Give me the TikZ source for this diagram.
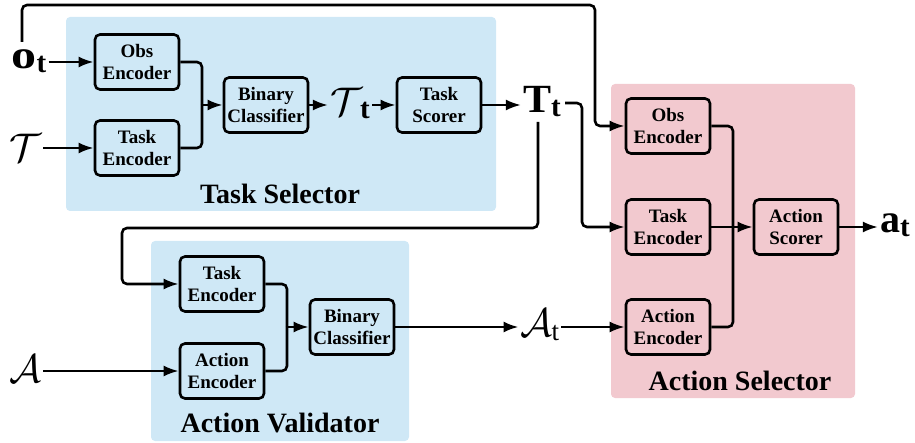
\documentclass[tikz,border=0pt]{standalone}
\usepackage{fix-cm}
\usepackage{fontspec}
\setmainfont{Liberation Serif}
\usetikzlibrary{arrows.meta,calc}

\definecolor{selblue}{HTML}{CFE8F6}
\definecolor{selpink}{HTML}{F2C9CF}

% symbol with a slightly lowered subscript, both set in text fonts
\newcommand{\symsub}[2]{#1\raisebox{-4pt}{\fontsize{29}{29}\selectfont #2}}

\begin{document}
\begin{tikzpicture}[x=1pt,y=-1pt,
  blk/.style={draw, line width=2.6pt, rounded corners=5pt,
    minimum width=84pt, minimum height=55pt, inner sep=0pt, align=center,
    font=\bfseries\fontsize{19}{22}\selectfont},
  grp/.style={fill=#1, rounded corners=4pt},
  grplabel/.style={font=\bfseries\fontsize{28}{30}\selectfont, inner sep=0pt},
  sym/.style={inner sep=2pt, font=\bfseries\fontsize{40}{42}\selectfont},
  csym/.style={inner sep=2pt, font=\fontsize{40}{42}\selectfont},
  wire/.style={line width=2.6pt, rounded corners=5pt},
  arr/.style={wire, -{Latex[length=15pt,width=11pt]}}]
\useasboundingbox (0,0) rectangle (915,443);

% group panels
\fill[grp=selblue] (66,17) rectangle (496,211);
\fill[grp=selpink] (611,84) rectangle (855,398);
\fill[grp=selblue] (151,241) rectangle (409,441);
\node[grplabel] (lblTS) at (280,194) {Task Selector};
\node[grplabel] (lblAS) at (740,381) {Action Selector};
\node[grplabel] (lblAV) at (280,423) {Action Validator};

% task selector
\node[blk] (tsObs)  at (137,62)  {Obs\\Encoder};
\node[blk] (tsTask) at (137,148) {Task\\Encoder};
\node[blk] (tsBin)  at (266,105) {Binary\\Classifier};
\node[blk] (tsScr)  at (439,105) {Task\\Scorer};

% action selector
\node[blk] (asObs)  at (668,126) {Obs\\Encoder};
\node[blk] (asTask) at (668,227) {Task\\Encoder};
\node[blk] (asAct)  at (668,327) {Action\\Encoder};
\node[blk] (asScr)  at (796,227) {Action\\Scorer};

% action validator
\node[blk] (avTask) at (222,284) {Task\\Encoder};
\node[blk] (avAct)  at (222,371) {Action\\Encoder};
\node[blk] (avBin)  at (352,327) {Binary\\Classifier};

% symbols
\node[sym]  (ot)  at (29,61)   {\symsub{\scalebox{1.25}[1]{o}}{t}};
\node[csym] (T)   at (25,148)  {$\mathcal{T}$};
\node[csym] (A)   at (25,369)  {$\mathcal{A}$};
\node[csym] (Tt)  at (350,103) {$\mathcal{T}$\kern-2pt\raisebox{-3pt}{\bfseries\fontsize{29}{29}\selectfont t}};
\node[sym]  (TT)  at (542,102) {\symsub{\scalebox{1.05}[1]{T}}{t}};
\node[csym] (At)  at (540,325) {$\mathcal{A}$\kern-1pt\raisebox{-4pt}{\fontsize{27}{27}\selectfont t}};
\node[sym]  (at)  at (895,225) {\symsub{a}{t}};

% merge points
\coordinate (mTS) at (202,105);
\coordinate (mAV) at (287,327);
\coordinate (mAS) at (733,227);
\coordinate (topR) at (595,5);
\coordinate (otUp) at (22,42);
\coordinate (ttR) at (565,103);
\coordinate (ttB) at (538,122);
\coordinate (loopL) at (122,228);

% task selector wiring
\draw[arr] (ot.east |- tsObs.west) -- (tsObs.west);
\draw[arr] (T.east |- tsTask.west) -- (tsTask.west);
\draw[wire] (tsObs.east) -| (mTS);
\draw[wire] (tsTask.east) -| (mTS);
\draw[arr] (mTS) -- (tsBin.west);
\draw[arr] (tsBin.east) -- (Tt.west |- tsBin.east);
\draw[arr] (Tt.east |- tsScr.west) -- (tsScr.west);
\draw[arr] (tsScr.east) -- (TT.west |- tsScr.east);

% observation to the action selector
\draw[arr] (otUp) |- (topR) |- (asObs.west);

% selected task to action selector and validator
\draw[arr] (ttR) -- ++(17,0) |- (asTask.west);
\draw[arr] (ttB) |- (loopL) |- (avTask.west);

% action validator wiring
\draw[arr] (A.east |- avAct.west) -- (avAct.west);
\draw[wire] (avTask.east) -| (mAV);
\draw[wire] (avAct.east) -| (mAV);
\draw[arr] (mAV) -- (avBin.west);
\draw[arr] (avBin.east) -- (At.west |- avBin.east);
\draw[arr] (At.east |- asAct.west) -- (asAct.west);

% action selector wiring
\draw[wire] (asObs.east) -| (mAS);
\draw[wire] (asAct.east) -| (mAS);
\draw[wire] (asTask.east) -- (mAS);
\draw[arr] (mAS) -- (asScr.west);
\draw[arr] (asScr.east) -- (at.west |- asScr.east);
\end{tikzpicture}
\end{document}
